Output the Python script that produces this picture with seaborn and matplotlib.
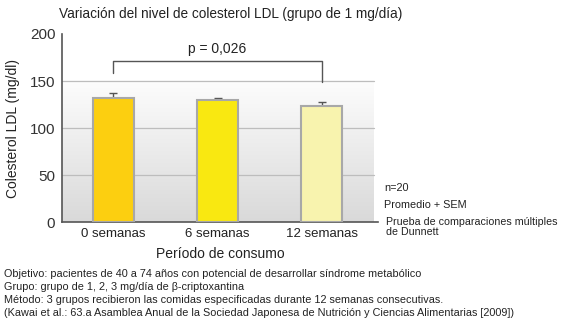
import numpy as np
import pandas as pd
import matplotlib
matplotlib.use("Agg")
import matplotlib.pyplot as plt
import seaborn as sns
from matplotlib.colors import LinearSegmentedColormap

categories = ["0 semanas", "6 semanas", "12 semanas"]
values = [132.5, 129.5, 124.0]
sem = [4.5, 3.0, 4.0]
bar_colors = ["#FCCF10", "#F9E811", "#F8F3AE"]
yticks = [0, 50, 100, 150, 200]
p_text = "p = 0,026"
title = "Variación del nivel de colesterol LDL (grupo de 1 mg/día)"
ylabel = "Colesterol LDL (mg/dl)"
xlabel = "Período de consumo"
side_notes = ["n=20", "Promedio + SEM", "Prueba de comparaciones múltiples\nde Dunnett"]
bottom_notes = [
    "Objetivo: pacientes de 40 a 74 años con potencial de desarrollar síndrome metabólico",
    "Grupo: grupo de 1, 2, 3 mg/día de β-criptoxantina",
    "Método: 3 grupos recibieron las comidas especificadas durante 12 semanas consecutivas.",
    "(Kawai et al.: 63.a Asamblea Anual de la Sociedad Japonesa de Nutrición y Ciencias Alimentarias [2009])",
]

sns.set_style("white")
plt.rcParams["font.family"] = ["Liberation Sans", "DejaVu Sans"]

df = pd.DataFrame({"cat": categories, "val": values})

fig = plt.figure(figsize=(5.7, 3.36), dpi=100)
ax = fig.add_axes([0.1093, 0.3384, 0.5537, 0.5606])

xmin, xmax = -0.49, 2.54
grad = np.linspace(0, 1, 256).reshape(-1, 1)
cmap = LinearSegmentedColormap.from_list("g", ["#d9d9d9", "#fdfdfd"])
ax.imshow(grad, extent=(xmin, 2.5, 0, 150), origin="lower", aspect="auto",
          cmap=cmap, zorder=0)

for yv in [50, 100, 150]:
    ax.plot([xmin, 2.5], [yv, yv], color="#bdbdbd", lw=0.9, zorder=1)

sns.barplot(data=df, x="cat", y="val", hue="cat", palette=bar_colors,
            saturation=1, legend=False, width=0.4, edgecolor="#a8a8a8",
            linewidth=1.5, errorbar=None, ax=ax)
for p in ax.patches:
    p.set_zorder(3)

xs = np.arange(len(categories))
ax.errorbar(xs, values, yerr=[np.zeros(len(sem)), sem], fmt="none",
            ecolor="#555555", elinewidth=1.0, capsize=3, capthick=1.0, zorder=2)

# bracket
bx0, bx1 = 0, 2
ax.plot([bx0, bx0, bx1, bx1], [158, 171.5, 171.5, 149], color="#555555",
        lw=1.0, zorder=4, clip_on=False)
ax.text(1, 177, p_text, ha="center", va="bottom", fontsize=10, color="#222222")

ax.set_xlim(xmin, xmax)
ax.set_ylim(0, 200)
ax.set_yticks(yticks)
ax.set_yticklabels([str(t) for t in yticks], fontsize=11, color="#333333")
ax.set_xticks(xs)
ax.set_xticklabels(categories, fontsize=9.5, color="#222222")
ax.tick_params(axis="y", length=0, pad=5)
ax.tick_params(axis="x", which="major", length=0, pad=4)
ax.set_xticks([0.5, 1.5, 2.5], minor=True)
ax.tick_params(axis="x", which="minor", direction="in", length=4, color="#555555", width=1)
ax.set_xlabel(xlabel, fontsize=10, color="#222222", labelpad=5)
ax.set_ylabel(ylabel, fontsize=10, color="#222222", labelpad=7)

for s in ["top", "right"]:
    ax.spines[s].set_visible(False)
for s in ["left", "bottom"]:
    ax.spines[s].set_color("#555555")
    ax.spines[s].set_linewidth(1.2)

fig.text(59/570, 0.958, title, fontsize=9.8, color="#222222", ha="left", va="center")

fig.text(384/570, 1 - 188/336, side_notes[0], fontsize=7.8, color="#222222", va="center")
fig.text(384/570, 1 - 205/336, side_notes[1], fontsize=7.8, color="#222222", va="center")
fig.text(386/570, 1 - 227/336, side_notes[2], fontsize=7.7, color="#222222", va="center",
         linespacing=1.1)

ys = [274, 287, 300, 313]
for t, y in zip(bottom_notes, ys):
    fig.text(4/570, 1 - y/336, t, fontsize=7.8, color="#222222", va="center")

fig.savefig("out.png", dpi=100)
